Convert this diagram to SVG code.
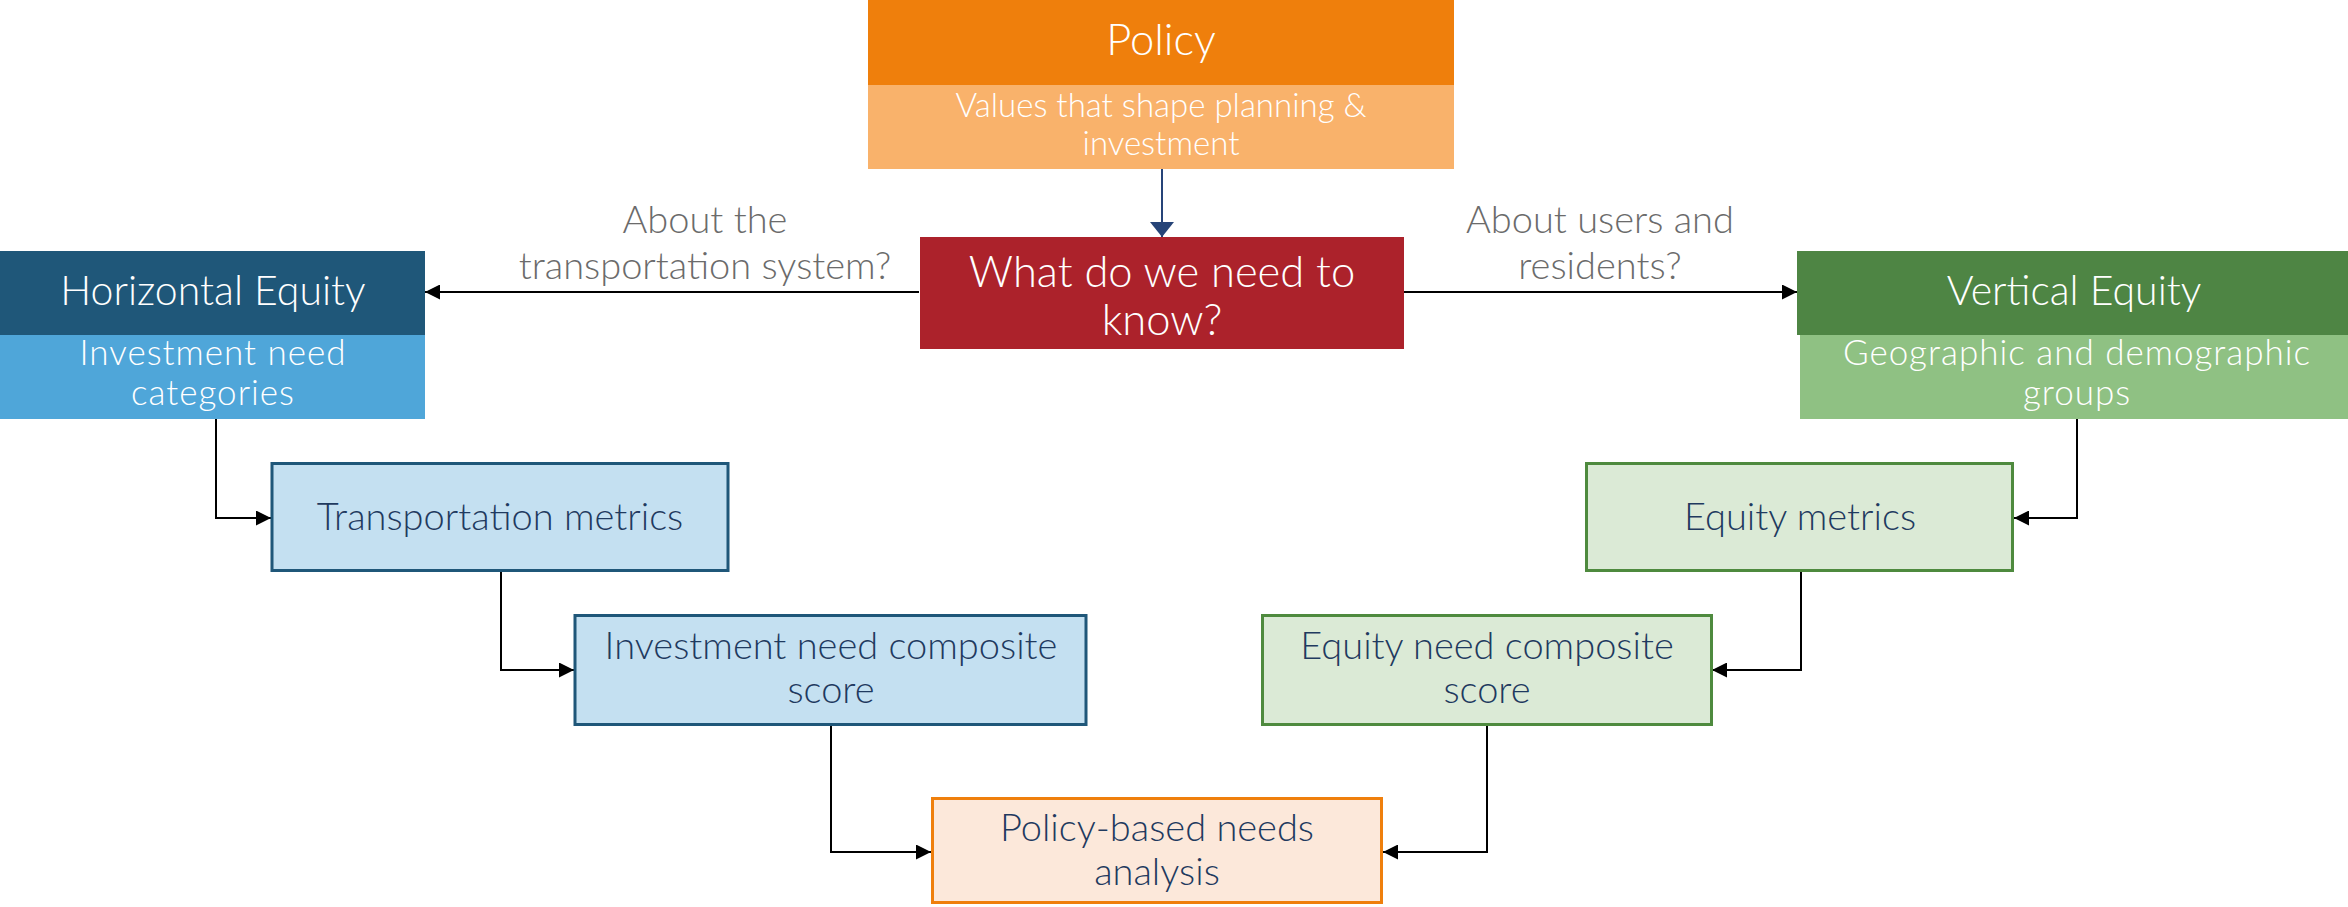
<svg xmlns="http://www.w3.org/2000/svg" width="2348" height="907" viewBox="0 0 2348 907">
<style>
text{font-family:Lato,"Liberation Sans",sans-serif;font-weight:300;text-anchor:middle}
.w{fill:#ffffff}
.d{fill:#1f3a5f;font-size:38px}
.g{fill:#6b6b6b;font-size:38px}
.sub{font-size:35px;letter-spacing:1px}
.con{fill:none;stroke:#000;stroke-width:2}
</style>
<defs>
<marker id="ah" viewBox="0 0 10 10" refX="10" refY="5" markerWidth="15" markerHeight="15" markerUnits="userSpaceOnUse" orient="auto"><path d="M0,0 L10,5 L0,10 z" fill="#000"/></marker>
<marker id="ahb" viewBox="0 0 10 10" refX="10" refY="5" markerWidth="15" markerHeight="24" markerUnits="userSpaceOnUse" orient="auto" preserveAspectRatio="none"><path d="M0,0 L10,5 L0,10 z" fill="#264478"/></marker>
</defs>
<g id="connectors">
<path class="con" style="stroke:#264478" d="M1162,169 V237" marker-end="url(#ahb)"/>
<path class="con" d="M919,292 H425" marker-end="url(#ah)"/>
<path class="con" d="M1404,292 H1797" marker-end="url(#ah)"/>
<path class="con" d="M216,419 V518 H271" marker-end="url(#ah)"/>
<path class="con" d="M501,572 V670 H574" marker-end="url(#ah)"/>
<path class="con" d="M831,726 V852 H931" marker-end="url(#ah)"/>
<path class="con" d="M2077,419 V518 H2014" marker-end="url(#ah)"/>
<path class="con" d="M1801,572 V670 H1712" marker-end="url(#ah)"/>
<path class="con" d="M1487,726 V852 H1383" marker-end="url(#ah)"/>
<text class="g" x="705" y="233">About the</text>
<text class="g" x="705" y="279">transportation system?</text>
<text class="g" x="1600" y="233">About users and</text>
<text class="g" x="1600" y="279">residents?</text>
</g>
<g id="policy">
<rect x="868" y="0" width="586" height="85" fill="#ef7f0c"/>
<rect x="868" y="85" width="586" height="84" fill="#f9b26b"/>
<text class="w" x="1161" y="55" font-size="43.5">Policy</text>
<text class="w" x="1161" y="117" font-size="33">Values that shape planning &amp;</text>
<text class="w" x="1161" y="155" font-size="33">investment</text>
</g>
<g id="question">
<rect x="920" y="237" width="484" height="112" fill="#ac222b"/>
<text class="w" x="1162" y="287" font-size="43.5">What do we need to</text>
<text class="w" x="1162" y="335" font-size="43.5">know?</text>
</g>
<g id="horizontal">
<rect x="0" y="251" width="425" height="84" fill="#1f5779"/>
<rect x="0" y="335" width="425" height="84" fill="#4fa6d9"/>
<text class="w" x="213" y="305" font-size="41">Horizontal Equity</text>
<text class="w sub" x="213" y="365">Investment need</text>
<text class="w sub" x="213" y="405">categories</text>
</g>
<g id="vertical">
<rect x="1797" y="251" width="551" height="84" fill="#4e8544"/>
<rect x="1800" y="335" width="548" height="84" fill="#8fc183"/>
<text class="w" x="2074" y="305" font-size="41">Vertical Equity</text>
<text class="w sub" x="2077" y="365">Geographic and demographic</text>
<text class="w sub" x="2077" y="405">groups</text>
</g>
<g id="transport-metrics">
<rect x="272" y="463.5" width="456" height="107" fill="#c4e0f1" stroke="#1f5779" stroke-width="3"/>
<text class="d" x="500" y="530">Transportation metrics</text>
</g>
<g id="investment-score">
<rect x="575" y="615.5" width="511" height="109" fill="#c4e0f1" stroke="#1f5779" stroke-width="3"/>
<text class="d" x="831" y="659">Investment need composite</text>
<text class="d" x="831" y="703">score</text>
</g>
<g id="equity-metrics">
<rect x="1586.5" y="463.5" width="426" height="107" fill="#dbead6" stroke="#4e8a3e" stroke-width="3"/>
<text class="d" x="1800" y="530">Equity metrics</text>
</g>
<g id="equity-score">
<rect x="1262.5" y="615.5" width="449" height="109" fill="#dbead6" stroke="#4e8a3e" stroke-width="3"/>
<text class="d" x="1487" y="659">Equity need composite</text>
<text class="d" x="1487" y="703">score</text>
</g>
<g id="policy-analysis">
<rect x="932.5" y="798.5" width="449" height="104" fill="#fce8da" stroke="#ef7f0c" stroke-width="3"/>
<text class="d" x="1157" y="841">Policy-based needs</text>
<text class="d" x="1157" y="885">analysis</text>
</g>
</svg>
